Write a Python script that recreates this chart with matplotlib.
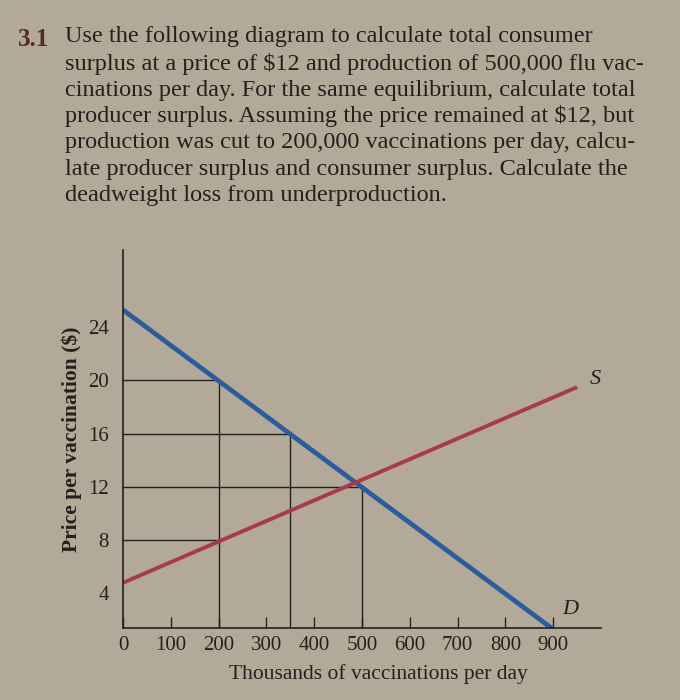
#!/usr/bin/env python3

# Import libraries
import matplotlib.pyplot as plt
import numpy as np

# Question text above the diagram
question_lines = [
    "Use the following diagram to calculate total consumer",
    "surplus at a price of $12 and production of 500,000 flu vac-",
    "cinations per day. For the same equilibrium, calculate total",
    "producer surplus. Assuming the price remained at $12, but",
    "production was cut to 200,000 vaccinations per day, calcu-",
    "late producer surplus and consumer surplus. Calculate the",
    "deadweight loss from underproduction.",
]
question_no = "3.1"

# Demand and supply curves (thousands of vaccinations, $)
demand_q = [0, 900]
demand_p = [25.3, 1.3]
supply_q = [0, 950]
supply_p = [4.8, 19.5]

# Guide lines: quantity and price pairs
guide_q = [200, 350, 500, 200]
guide_p = [20, 16, 12, 8]
vert_q = [200, 350, 500]
vert_p = [20, 16, 12]

x_ticks = [0, 100, 200, 300, 400, 500, 600, 700, 800, 900]
y_ticks = [4, 8, 12, 16, 20, 24]

paper = "#b3a999"
ink = "#24201e"
blue = "#2b5d9c"
red = "#a83a4c"
serif = ["Liberation Serif", "DejaVu Serif"]

fig = plt.figure(figsize=(6.8, 7.0), dpi=100)
fig.patch.set_facecolor(paper)

# Question paragraph
line_y = [42, 70, 96, 122, 148, 175, 201]
fig.text(18 / 680, 1 - 46 / 700, question_no, fontsize=18, family=serif,
         color="#5a2a26", ha="left", va="baseline", weight="bold")
for txt, y in zip(question_lines, line_y):
    fig.text(65 / 680, 1 - y / 700, txt, fontsize=17.5, family=serif,
             color=ink, ha="left", va="baseline")

# Diagram
ax = fig.add_axes([123 / 680, 72 / 700, 478 / 680, 378 / 700])
ax.set_facecolor("none")
ax.set_xlim(0, 1000)
ax.set_ylim(1.4, 29.8)

for q, p in zip(guide_q, guide_p):
    ax.plot([0, q], [p, p], color=ink, lw=1.0)
for q, p in zip(vert_q, vert_p):
    ax.plot([q, q], [1.4, p], color=ink, lw=1.0)

ax.plot(demand_q, demand_p, color=blue, lw=3.4, solid_capstyle="butt")
ax.plot(supply_q, supply_p, color=red, lw=2.8, solid_capstyle="butt")

ax.text(988, 20.1, "S", fontsize=16, style="italic", family=serif,
        color=ink, ha="center", va="center")
ax.text(935, 2.8, "D", fontsize=16, style="italic", family=serif,
        color=ink, ha="center", va="center")

for side in ("top", "right"):
    ax.spines[side].set_visible(False)
for side in ("left", "bottom"):
    ax.spines[side].set_color(ink)
    ax.spines[side].set_linewidth(1.2)

ax.set_xticks(x_ticks)
ax.set_xticklabels([str(v) for v in x_ticks], family=serif, fontsize=15,
                   color=ink)
ax.set_yticks(y_ticks)
ax.set_yticklabels([str(v) for v in y_ticks], family=serif, fontsize=15,
                   color=ink)
ax.tick_params(axis="x", direction="in", length=8, width=1, color=ink, pad=6)
ax.tick_params(axis="y", length=0, pad=10)

ax.set_xlabel("Thousands of vaccinations per day", family=serif,
              fontsize=15.5, color=ink)
ax.xaxis.set_label_coords(0.535, -0.095)
ax.set_ylabel("Price per vaccination ($)", family=serif, fontsize=15.5,
              color=ink, weight="bold")
ax.yaxis.set_label_coords(-0.085, 0.5)

fig.savefig("out.png", dpi=100, facecolor=paper)
